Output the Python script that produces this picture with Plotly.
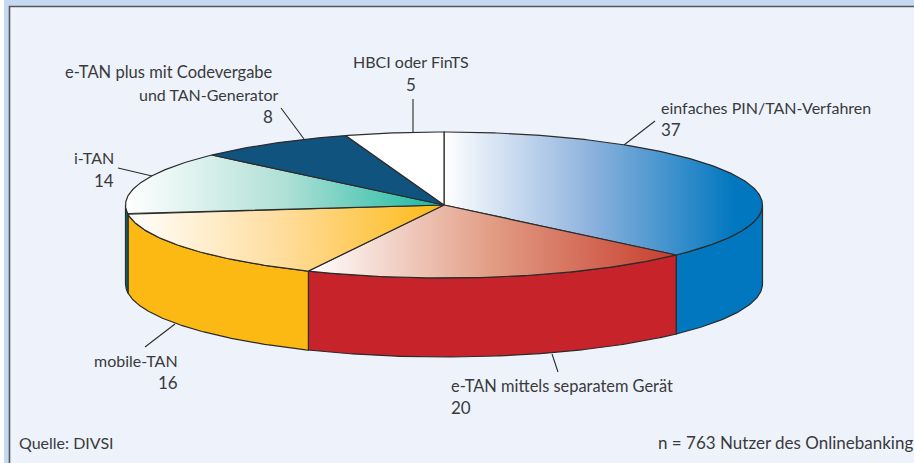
import numpy as np
import plotly.graph_objects as go

labels = ["einfaches PIN/TAN-Verfahren", "e-TAN mittels separatem Gerät", "mobile-TAN",
          "i-TAN", "e-TAN plus mit Codevergabe und TAN-Generator", "HBCI oder FinTS"]
values = [37, 20, 16, 14, 8, 5]
side_colors = ["#0077bf", "#c6232b", "#fdb913", "#0c6a6a", "#10537f", "#ffffff"]
top_scales = [
    [[0, "#ffffff"], [0.5, "#8fb3de"], [1, "#0077bf"]],
    [[0, "#ffffff"], [0.5, "#e29c84"], [1, "#c63d2d"]],
    [[0, "#ffffff"], [0.5, "#ffdc9a"], [1, "#fdb913"]],
    [[0, "#ffffff"], [0.5, "#b0e0d6"], [1, "#15b8a0"]],
    None,
    None,
]
gradient_extent = [(444, 735), (309, 677), (127, 444), (127, 444), None, None]

CX, CY, RX, RY, DEPTH = 444, 205, 318.5, 73, 79
INK = "#2b2b2b"
TEXT = "#3a3a3c"
FONT = "Lato"

# text lines: text, x, y(middle), anchor, font size, x shift
text_lines = [
    ("HBCI oder FinTS", 411, 61, "center", 16, 0),
    ("5", 411, 84, "center", 17, 0),
    ("e-TAN plus mit Codevergabe", 275, 72, "right", 16.5, 0),
    ("und TAN-Generator", 280, 94, "right", 16, 0),
    ("8", 275, 116, "right", 17, 0),
    ("i-TAN", 116, 157, "right", 16, 0),
    ("14", 116, 180, "right", 17, 0),
    ("einfaches PIN/TAN-Verfahren", 659, 107, "left", 16, 0),
    ("37", 659, 129, "left", 17, 0),
    ("mobile-TAN", 180, 360, "right", 16, 0),
    ("16", 180, 382, "right", 17, 0),
    ("e-TAN mittels separatem Gerät", 449, 385, "left", 16.4, 0),
    ("20", 449, 407, "left", 17, 0),
    ("Quelle: DIVSI", 17, 442, "left", 16, 0),
    ("n = 763 Nutzer des Onlinebanking", 913, 442, "right", 17, 2),
]
leaders = [
    ((413, 99), (413, 132)),
    ((281, 108), (304, 139)),
    ((118, 168), (152, 176)),
    ((655, 121), (624, 145)),
    ((145, 347), (175, 324)),
    ((552, 354), (558, 372)),
]


def rim(a0, a1, dy=0.0):
    t = np.radians(np.linspace(a0, a1, max(int(abs(a1 - a0) * 2), 2)))
    return CX + RX * np.sin(t), CY - RY * np.cos(t) + dy


fig = go.Figure()
edges = np.concatenate([[0], np.cumsum(values)]) / sum(values) * 360

# side walls (only the front half, 90..270 degrees, is visible)
for v0, v1, col in zip(edges[:-1], edges[1:], side_colors):
    a0, a1 = max(v0, 90), min(v1, 270)
    if a1 <= a0:
        continue
    xt, yt = rim(a0, a1)
    xb, yb = rim(a0, a1, DEPTH)
    fig.add_trace(go.Scatter(
        x=np.r_[xt, xb[::-1], xt[0]], y=np.r_[yt, yb[::-1], yt[0]],
        mode="lines", fill="toself", fillcolor=col,
        line=dict(color=INK, width=1.2), hoverinfo="skip", showlegend=False))

# top faces
for i, (v0, v1) in enumerate(zip(edges[:-1], edges[1:])):
    xs, ys = rim(v0, v1)
    kw = dict(fillcolor=side_colors[i])
    if top_scales[i] is not None:
        s, e = gradient_extent[i]
        kw = dict(fillgradient=dict(type="horizontal", colorscale=top_scales[i], start=s, stop=e))
    fig.add_trace(go.Scatter(
        x=np.r_[CX, xs, CX], y=np.r_[CY, ys, CY],
        mode="lines", fill="toself", line=dict(color=INK, width=1.2),
        hoverinfo="skip", showlegend=False, **kw))

# leader lines
for (p, q) in leaders:
    fig.add_trace(go.Scatter(x=[p[0], q[0]], y=[p[1], q[1]], mode="lines",
                             line=dict(color=INK, width=1.1),
                             hoverinfo="skip", showlegend=False))

annotations = [
    dict(text=t, x=x, y=y, xref="x", yref="y", xanchor=a, yanchor="middle", xshift=dx,
         showarrow=False, font=dict(family=FONT, size=s, color=TEXT))
    for t, x, y, a, s, dx in text_lines
]

shapes = [
    dict(type="rect", xref="x", yref="y", x0=4, x1=914, y0=0, y1=463,
         fillcolor="#c5d9f0", line_width=0, layer="below"),
    dict(type="rect", xref="x", yref="y", x0=9.5, x1=918, y0=6.5, y1=467,
         fillcolor="#eef3fb", line=dict(color="#55585c", width=1.6), layer="below"),
]

fig.update_layout(
    width=914, height=463, margin=dict(l=0, r=0, t=0, b=0),
    paper_bgcolor="#ffffff", plot_bgcolor="rgba(0,0,0,0)",
    xaxis=dict(range=[0, 914], visible=False, fixedrange=True),
    yaxis=dict(range=[463, 0], visible=False, fixedrange=True),
    annotations=annotations, shapes=shapes, showlegend=False,
)
fig.write_html("out.html", config=dict(displayModeBar=False),
               post_script="document.body.style.margin='0';document.body.style.overflow='hidden';")
